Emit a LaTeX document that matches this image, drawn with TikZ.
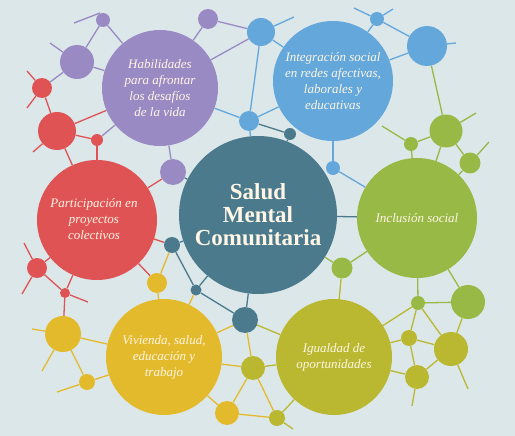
\documentclass[tikz,border=0pt]{standalone}
\usepackage{fontspec}
\setmainfont{Liberation Serif}
\definecolor{bgc}{HTML}{DCE7EA}
\definecolor{cpur}{HTML}{9A8AC4}
\definecolor{cblu}{HTML}{64A8DB}
\definecolor{ctea}{HTML}{4A7A8C}
\definecolor{cgre}{HTML}{98B945}
\definecolor{coli}{HTML}{B9B830}
\definecolor{cyel}{HTML}{E4BA2D}
\definecolor{cred}{HTML}{E05354}
\definecolor{ctxt}{HTML}{FFF6E6}
\pgfdeclarelayer{bgzero}
\pgfdeclarelayer{lines}
\pgfsetlayers{bgzero,lines,main}
\tikzset{
  ball/.style 2 args={circle,fill=#1,draw=none,inner sep=0pt,minimum size=#2*2pt,text=ctxt,align=center},
  ln/.style={draw=#1,line width=1.3pt},
  lab/.style={font=\itshape\fontsize{13}{16}\selectfont},
}
\begin{document}
\begin{tikzpicture}[x=1pt,y=-1pt]
\useasboundingbox (0,0) rectangle (515,436);
\begin{pgfonlayer}{bgzero}
\fill[bgc] (0,0) rectangle (515,436);
\end{pgfonlayer}
% big circles
\node[ball={ctea}{79},font=\bfseries\fontsize{23}{23}\selectfont] (C) at (258,215) {Salud\\Mental\\Comunitaria};
\node[ball={cpur}{58},lab] (H) at (160,88) {Habilidades\\para afrontar\\los desafíos\\de la vida};
\node[ball={cblu}{60},lab] (I) at (333,81) {Integración social\\en redes afectivas,\\laborales y\\educativas};
\node[ball={cgre}{60},lab] (S) at (417,218) {Inclusión social};
\node[ball={coli}{58},lab] (G) at (334,357) {Igualdad de\\oportunidades};
\node[ball={cyel}{58},lab] (V) at (164,357) {\raisebox{-4pt}{\begin{tabular}{@{}c@{}}Vivienda, salud,\\educación y\\trabajo\end{tabular}}};
\node[ball={cred}{60},lab] (P) at (97,220) {\hspace*{-6pt}\raisebox{-3pt}{\begin{tabular}{@{}c@{}}Participación en\\proyectos\\colectivos\end{tabular}}};
% purple
\node[ball={cpur}{7}] (pu1) at (103,20) {};
\node[ball={cpur}{17}] (pu2) at (77,62) {};
\node[ball={cpur}{10}] (pu3) at (208,19) {};
\node[ball={cpur}{13}] (pu4) at (173,172) {};
% blue
\node[ball={cblu}{14}] (B1) at (261,32) {};
\node[ball={cblu}{10}] (b2) at (249,121) {};
\node[ball={cblu}{7}] (b3) at (377,19) {};
\node[ball={cblu}{20}] (B4) at (427,46) {};
\node[ball={cblu}{7}] (b5) at (333,168) {};
% teal
\node[ball={ctea}{8}] (t1) at (172,245) {};
\node[ball={ctea}{5.5}] (t2) at (196,290) {};
\node[ball={ctea}{13}] (t3) at (245,320) {};
\node[ball={ctea}{6}] (t4) at (290,134) {};
% green
\node[ball={cgre}{16.5}] (g1) at (446,131) {};
\node[ball={cgre}{7}] (g2) at (411,144) {};
\node[ball={cgre}{10.5}] (g3) at (470,163) {};
\node[ball={cgre}{10.5}] (g4) at (342,268) {};
\node[ball={cgre}{7}] (g5) at (418,303) {};
\node[ball={cgre}{17}] (g6) at (468,302) {};
% olive
\node[ball={coli}{12}] (o1) at (253,368) {};
\node[ball={coli}{8}] (o2) at (277,418) {};
\node[ball={coli}{8}] (o3) at (409,338) {};
\node[ball={coli}{17}] (o4) at (451,349) {};
\node[ball={coli}{12}] (o5) at (417,377) {};
% yellow
\node[ball={cyel}{18}] (y1) at (63,334) {};
\node[ball={cyel}{10}] (y2) at (157,283) {};
\node[ball={cyel}{8}] (y3) at (87,382) {};
\node[ball={cyel}{12}] (y4) at (227,413) {};
% red
\node[ball={cred}{10}] (r1) at (42,88) {};
\node[ball={cred}{19}] (r2) at (57,131) {};
\node[ball={cred}{6}] (r3) at (97,140) {};
\node[ball={cred}{10}] (r4) at (37,268) {};
\node[ball={cred}{5}] (r5) at (65,293) {};
% free ends
\coordinate (pu1a) at (74,23);
\coordinate (pu1b) at (100,13);
\coordinate (pu2s) at (50,43);
\coordinate (r1a) at (27,71);
\coordinate (r1b) at (27,108);
\coordinate (r2s) at (33,152);
\coordinate (r4a) at (24,243);
\coordinate (r4b) at (22,294);
\coordinate (r5s) at (88,302);
\coordinate (y1a) at (32,329);
\coordinate (y1b) at (42,371);
\coordinate (y3s) at (57,392);
\coordinate (B1s) at (294,17);
\coordinate (b3a) at (354,8);
\coordinate (b3b) at (393,9);
\coordinate (B4s) at (456,43);
\coordinate (g1s) at (476,113);
\coordinate (g2s) at (382,126);
\coordinate (g3s) at (489,142);
\coordinate (o4s) at (468,389);
\coordinate (o5s) at (412,406);
\coordinate (o2s) at (293,429);
\begin{pgfonlayer}{lines}
% purple
\draw[ln=cpur] (pu1a) -- (pu1b);
\draw[ln=cpur] (pu2) -- (pu2s);
\draw[ln=cpur] (pu1) -- (pu2);
\draw[ln=cpur] (pu1) -- (H);
\draw[ln=cpur] (pu2) -- (H);
\draw[ln=cpur] (pu3) -- (H);
\draw[ln=cpur] (pu3) -- (B1);
\draw[ln=cpur] (H) -- (B1);
\draw[ln=cpur] (H) -- (pu4);
\draw[ln=cpur] (pu2) -- (r1);
\draw[ln=cpur] (r3) -- (H);
% red
\draw[ln=cred] (r1) -- (r1a);
\draw[ln=cred] (r1) -- (r1b);
\draw[ln=cred] (r2) -- (r2s);
\draw[ln=cred] (r4) -- (r4a);
\draw[ln=cred] (r4) -- (r4b);
\draw[ln=cred] (r5) -- (r5s);
\draw[ln=cred] (r1) -- (r2);
\draw[ln=cred] (r2) -- (H);
\draw[ln=cred] (r2) -- (r3);
\draw[ln=cred] (r2) -- (P);
\draw[ln=cred] (r3) -- (P);
\draw[ln=cred] (r4) -- (P);
\draw[ln=cred] (r4) -- (r5);
\draw[ln=cred] (r5) -- (P);
\draw[ln=cred] (r5) -- (y1);
\draw[ln=cred] (P) -- (y2);
\draw[ln=cred] (P) -- (t1);
\draw[ln=cred] (pu4) -- (P);
% blue
\draw[ln=cblu] (B1) -- (B1s);
\draw[ln=cblu] (b3) -- (b3a);
\draw[ln=cblu] (b3) -- (b3b);
\draw[ln=cblu] (B4) -- (B4s);
\draw[ln=cblu] (B1) -- (I);
\draw[ln=cblu] (B1) -- (b2);
\draw[ln=cblu] (b2) -- (H);
\draw[ln=cblu] (b2) -- (I);
\draw[ln=cblu] (b2) -- (C);
\draw[ln=cblu] (b3) -- (I);
\draw[ln=cblu] (b3) -- (B4);
\draw[ln=cblu] (B4) -- (I);
\draw[ln=cblu] (b5) -- (I);
\draw[ln=cblu] (b5) -- (S);
% teal
\draw[ln=ctea] (b2) -- (t4);
\draw[ln=ctea] (t4) -- (C);
\draw[ln=ctea] (pu4) -- (C);
\draw[ln=ctea] (t1) -- (C);
\draw[ln=ctea] (t1) -- (t2);
\draw[ln=ctea] (t2) -- (t3);
\draw[ln=ctea] (t2) -- (C);
\draw[ln=ctea] (t3) -- (C);
\draw[ln=ctea] (C) -- (S);
% green
\draw[ln=cgre] (g1) -- (g1s);
\draw[ln=cgre] (g2) -- (g2s);
\draw[ln=cgre] (g3) -- (g3s);
\draw[ln=cgre] (B4) -- (g1);
\draw[ln=cgre] (g1) -- (g2);
\draw[ln=cgre] (g2) -- (S);
\draw[ln=cgre] (g1) -- (S);
\draw[ln=cgre] (g1) -- (g3);
\draw[ln=cgre] (g3) -- (S);
\draw[ln=cgre] (g4) -- (S);
\draw[ln=cgre] (g4) -- (C);
\draw[ln=cgre] (g5) -- (S);
\draw[ln=cgre] (g5) -- (g6);
\draw[ln=cgre] (g6) -- (S);
\draw[ln=coli] (g6) -- (o4);
% olive
\draw[ln=coli] (o4) -- (o4s);
\draw[ln=coli] (o5) -- (o5s);
\draw[ln=coli] (o2) -- (o2s);
\draw[ln=coli] (g4) -- (G);
\draw[ln=coli] (g5) -- (G);
\draw[ln=coli] (g5) -- (o3);
\draw[ln=coli] (g5) -- (o4);
\draw[ln=coli] (o3) -- (G);
\draw[ln=coli] (o3) -- (o4);
\draw[ln=coli] (o3) -- (o5);
\draw[ln=coli] (o4) -- (o5);
\draw[ln=coli] (o5) -- (G);
\draw[ln=coli] (t3) -- (G);
\draw[ln=coli] (o1) -- (G);
\draw[ln=coli] (o2) -- (G);
% yellow
\draw[ln=cyel] (y1) -- (y1a);
\draw[ln=cyel] (y1) -- (y1b);
\draw[ln=cyel] (y3) -- (y3s);
\draw[ln=cyel] (y1) -- (V);
\draw[ln=cyel] (y1) -- (y3);
\draw[ln=cyel] (y3) -- (V);
\draw[ln=cyel] (y2) -- (V);
\draw[ln=cyel] (y2) -- (t1);
\draw[ln=cyel] (V) -- (t2);
\draw[ln=cyel] (V) -- (t3);
\draw[ln=cyel] (V) -- (o1);
\draw[ln=cyel] (V) -- (y4);
\draw[ln=cyel] (y4) -- (o1);
\draw[ln=cyel] (y4) -- (o2);
\draw[ln=cyel] (o1) -- (o2);
\draw[ln=cyel] (t3) -- (o1);
\end{pgfonlayer}
\end{tikzpicture}
\end{document}
